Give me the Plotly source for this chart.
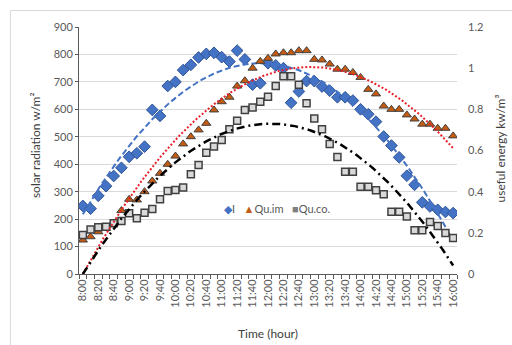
import numpy as np
import plotly.graph_objects as go

# Time of day, 10-minute steps from 8:00 to 16:00
times = ["8:00", "8:10", "8:20", "8:30", "8:40", "8:50", "9:00", "9:10", "9:20", "9:30",
         "9:40", "9:50", "10:00", "10:10", "10:20", "10:30", "10:40", "10:50", "11:00", "11:10",
         "11:20", "11:30", "11:40", "11:50", "12:00", "12:10", "12:20", "12:30", "12:40", "12:50",
         "13:00", "13:10", "13:20", "13:30", "13:40", "13:50", "14:00", "14:10", "14:20", "14:30",
         "14:40", "14:50", "15:00", "15:10", "15:20", "15:30", "15:40", "15:50", "16:00"]

# Solar radiation I (W/m²), left axis
solar_I = [248, 238, 285, 320, 357, 387, 427, 440, 464, 598,
           576, 685, 700, 743, 762, 789, 802, 806, 790, 774,
           814, 782, 690, 695, 768, 760, 750, 624, 665, 703,
           703, 683, 668, 644, 644, 632, 600, 582, 555, 501,
           468, 425, 358, 325, 261, 246, 234, 226, 222]

# Useful energy (kW/m³), right axis
qu_im = [0.165, 0.181, 0.205, 0.221, 0.247, 0.308, 0.363, 0.360, 0.400, 0.452,
         0.489, 0.533, 0.573, 0.632, 0.667, 0.700, 0.732, 0.797, 0.837, 0.859,
         0.913, 0.939, 1.000, 1.033, 1.048, 1.069, 1.075, 1.075, 1.085, 1.085,
         1.043, 1.040, 1.020, 0.995, 0.995, 0.979, 0.955, 0.897, 0.875, 0.816,
         0.800, 0.800, 0.773, 0.753, 0.728, 0.728, 0.708, 0.708, 0.671]

qu_co = [0.189, 0.216, 0.227, 0.229, 0.247, 0.257, 0.295, 0.271, 0.297, 0.316,
         0.363, 0.403, 0.408, 0.420, 0.485, 0.529, 0.589, 0.619, 0.651, 0.703,
         0.745, 0.797, 0.809, 0.837, 0.861, 0.913, 0.961, 0.961, 0.919, 0.829,
         0.756, 0.703, 0.632, 0.569, 0.497, 0.497, 0.424, 0.424, 0.407, 0.387,
         0.303, 0.303, 0.279, 0.213, 0.213, 0.253, 0.233, 0.199, 0.175]

idx = np.arange(len(times))
label_idx = idx[::2]
label_txt = [times[i] for i in label_idx]

FONT = "Lato"
GREY = "#595959"

# Order-2 polynomial trend lines over the sampled period
xs = np.linspace(0, len(times) - 1, 300)

c_I = np.polyfit(idx, solar_I, 2)
trend_I = np.polyval(c_I, xs)


def fit_zero_intercept(y):
    # quadratic through the origin at the first sample (8:00)
    A = np.column_stack([idx, idx ** 2]).astype(float)
    coef, *_ = np.linalg.lstsq(A, np.asarray(y), rcond=None)
    return coef[0] * xs + coef[1] * xs ** 2


trend_im = fit_zero_intercept(qu_im)
trend_co = fit_zero_intercept(qu_co)

fig = go.Figure()

fig.add_trace(go.Scatter(
    x=idx, y=solar_I, mode="markers", name="I",
    marker=dict(symbol="diamond", size=9, color="#4472C4",
                line=dict(color="#2F5597", width=1))))
fig.add_trace(go.Scatter(
    x=idx, y=qu_im, mode="markers", name="Qu.im", yaxis="y2",
    marker=dict(symbol="triangle-up", size=8, color="#C55A11",
                line=dict(color="#404040", width=1))))
fig.add_trace(go.Scatter(
    x=idx, y=qu_co, mode="markers", name="Qu.co.", yaxis="y2",
    marker=dict(symbol="square", size=7, color="#D9D9D9",
                line=dict(color="#404040", width=1.5))))

fig.add_trace(go.Scatter(
    x=xs, y=trend_I, mode="lines", hoverinfo="skip",
    line=dict(color="#4472C4", width=2, dash="6px,3px")))
fig.add_trace(go.Scatter(
    x=xs, y=trend_im, mode="lines", yaxis="y2", hoverinfo="skip",
    line=dict(color="#E8202A", width=2, dash="2px,2px")))
fig.add_trace(go.Scatter(
    x=xs, y=trend_co, mode="lines", yaxis="y2", hoverinfo="skip",
    line=dict(color="#000000", width=2.5, dash="8px,4px,2px,4px")))

fig.update_layout(
    width=512, height=345,
    margin=dict(l=79, r=55, t=27, b=71),
    paper_bgcolor="white", plot_bgcolor="white",
    showlegend=False,
    font=dict(family=FONT, size=11, color=GREY),
    xaxis=dict(
        range=[-0.5, len(times) - 0.5],
        tickmode="array", tickvals=label_idx, ticktext=label_txt,
        tickangle=-90, ticks="", showgrid=False, zeroline=False,
        showline=True, linecolor=GREY, linewidth=1,
        tickfont=dict(family=FONT, size=11, color=GREY),
        minor=dict(ticks="outside", ticklen=4, tickcolor=GREY,
                   tickmode="linear", tick0=-0.5, dtick=1, showgrid=False),
    ),
    yaxis=dict(
        range=[0, 900], dtick=100, showgrid=True, gridcolor="#D9D9D9",
        zeroline=False, showline=True, linecolor=GREY, linewidth=1,
        ticks="outside", ticklen=3, tickcolor=GREY,
        tickfont=dict(family=FONT, size=11, color=GREY),
    ),
    yaxis2=dict(
        range=[0, 1.2], dtick=0.2, overlaying="y", side="right",
        showgrid=False, zeroline=False, showline=False, ticks="",
        ticklabelstandoff=10,
        tickfont=dict(family=FONT, size=11, color=GREY),
    ),
    shapes=[dict(type="rect", xref="paper", yref="paper",
                 x0=-0.1814, x1=1.3, y0=-0.5, y1=1.0668,
                 line=dict(color="#D9D9D9", width=1), layer="below")],
    annotations=[
        dict(text="solar radiation w/m²", xref="paper", yref="paper",
             x=-0.115, y=0.52, textangle=-90, showarrow=False,
             xanchor="center", yanchor="middle",
             font=dict(family=FONT, size=12, color="#404040")),
        dict(text="useful energy kw/m³", xref="paper", yref="paper",
             x=1.115, y=0.51, textangle=-90, showarrow=False,
             xanchor="center", yanchor="middle",
             font=dict(family=FONT, size=12, color="#404040")),
        dict(text="Time (hour)", xref="paper", yref="paper",
             x=0.5, y=-0.239, showarrow=False,
             xanchor="center", yanchor="middle",
             font=dict(family=FONT, size=12, color="#404040")),
        dict(text=('<span style="color:#4472C4">◆</span>I   '
                   '<span style="color:#C55A11">▲</span>Qu.im   '
                   '<span style="color:#7F7F7F">■</span>Qu.co.'),
             xref="paper", yref="paper", x=0.525, y=0.267,
             showarrow=False, xanchor="center", yanchor="middle",
             font=dict(family=FONT, size=11, color=GREY)),
    ],
)

fig.write_html("out.html")
